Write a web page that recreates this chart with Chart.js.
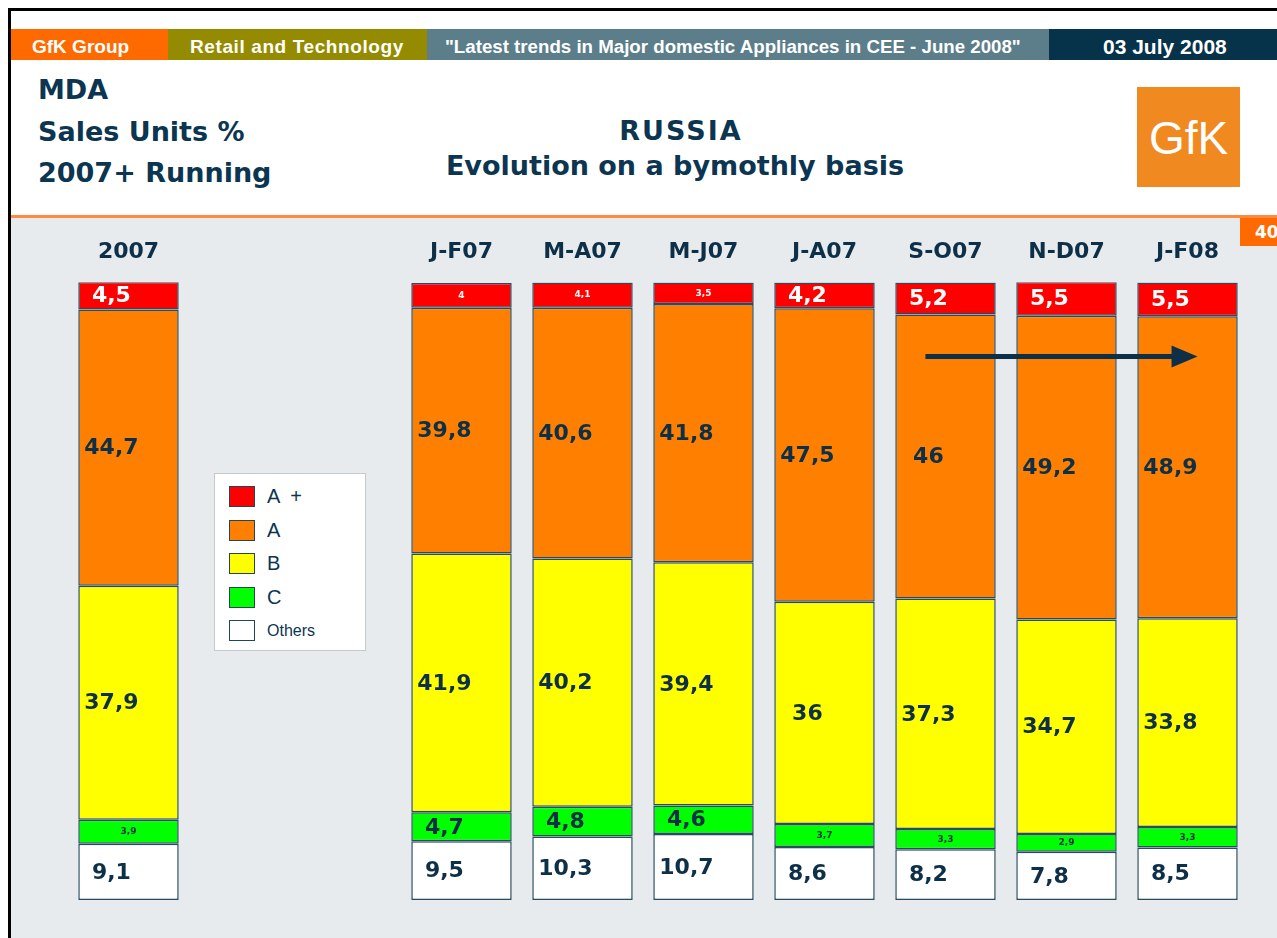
<!DOCTYPE html>
<html>
<head>
<meta charset="utf-8">
<script src="https://cdn.jsdelivr.net/npm/chart.js@4.4.1/dist/chart.umd.min.js"></script>
<style>
  body { margin: 0; width: 1277px; height: 938px; overflow: hidden; background: #fff; position: relative; font-family: "DejaVu Sans", sans-serif; }
  #frame { position: absolute; left: 8px; top: 8px; width: 1400px; height: 1000px; border-left: 3px solid #000; border-top: 3px solid #000; }
  #header { position: absolute; left: 11px; top: 29px; height: 31px; width: 1266px; display: flex; font-family: "Liberation Sans Narrow", "Liberation Sans", sans-serif; font-weight: bold; color: #fff; font-size: 19px; }
  #header div { height: 31px; line-height: 35px; box-sizing: border-box; white-space: nowrap; overflow: hidden; }
  .h1 { background: #ff6a00; width: 157px; padding-left: 21px; }
  .h2 { background: #948b00; width: 259px; padding-left: 22px; letter-spacing: 0.6px; }
  .h3 { background: #5b7e8a; width: 622px; padding-left: 18px; font-size: 18.7px; }
  .h4 { background: #06324a; flex: 1; padding-left: 54px; font-size: 21px; }
  .ttl { position: absolute; color: #0b3550; font-weight: bold; font-size: 27px; white-space: nowrap; }
  #logo { position: absolute; left: 1137px; top: 87px; width: 103px; height: 100px; background: #f0891f; color: #fff; font-family: "Liberation Sans", sans-serif; font-size: 46px; text-align: center; line-height: 102px; }
  #panel { position: absolute; left: 11px; top: 215px; width: 1266px; height: 723px; background: #e7ebed; border-top: 3px solid #ff8a3d; }
  #page { position: absolute; left: 1240px; top: 218px; width: 40px; height: 28px; background: #ff6a00; color: #fff; font-weight: bold; font-size: 17px; line-height: 28px; padding-left: 15px; box-sizing: border-box; overflow: hidden; }
  canvas { position: absolute; }
  #legend { position: absolute; left: 214px; top: 473px; width: 152px; height: 178px; background: #fff; border: 1.5px solid #c4cacd; box-sizing: border-box; padding-top: 6px; }
  .li { height: 33.5px; display: flex; align-items: center; padding-left: 14px; font-family: "Liberation Sans", sans-serif; font-size: 20px; color: #0b3550; white-space: pre; }
  .sw { width: 26px; height: 21px; border: 1.5px solid #20455c; box-sizing: border-box; margin-right: 12px; }
</style>
</head>
<body>
<div id="frame"></div>
<div id="header">
  <div class="h1">GfK Group</div>
  <div class="h2">Retail and Technology</div>
  <div class="h3">"Latest trends in Major domestic Appliances in CEE -  June 2008"</div>
  <div class="h4">03 July 2008</div>
</div>
<div class="ttl" style="left:38px; top:74px;">MDA</div>
<div class="ttl" style="left:38px; top:116px;">Sales Units %</div>
<div class="ttl" style="left:38px; top:157px;">2007+ Running</div>
<div class="ttl" style="left:0; width:1362px; text-align:center; top:115px; letter-spacing:2px;">RUSSIA</div>
<div class="ttl" style="left:0; width:1350px; text-align:center; top:150px;">Evolution on a bymothly basis</div>
<div id="logo">GfK</div>
<div id="panel"></div>
<div id="page">40</div>
<canvas id="cYear" style="left:68px; top:222px;" width="121" height="688"></canvas>
<canvas id="cBi" style="left:401px; top:222px;" width="847" height="688"></canvas>
<div id="legend"></div>
<script>
// categories
const yearLabels = ['2007'];
const biLabels = ['J-F07', 'M-A07', 'M-J07', 'J-A07', 'S-O07', 'N-D07', 'J-F08'];

// series, first value = 2007, then bimonthly periods
const seriesNames = ['A +', 'A', 'B', 'C', 'Others'];
const aPlus  = [4.5, 4, 4.1, 3.5, 4.2, 5.2, 5.5, 5.5];
const aClass = [44.7, 39.8, 40.6, 41.8, 47.5, 46, 49.2, 48.9];
const bClass = [37.9, 41.9, 40.2, 39.4, 36, 37.3, 34.7, 33.8];
const cClass = [3.9, 4.7, 4.8, 4.6, 3.7, 3.3, 2.9, 3.3];
const others = [9.1, 9.5, 10.3, 10.7, 8.6, 8.2, 7.8, 8.5];

// arrow annotation (trend from S-O07 to J-F08)
const arrowFrom = 'S-O07';
const arrowTo = 'J-F08';
const arrowLevel = 88;

const seriesColors = ['#ff0000', '#ff8000', '#ffff00', '#00ff00', '#ffffff'];
const navy = '#0d3048';
const edge = '#2a4c62';

function makeDatasets(sliceStart, sliceEnd) {
    // stack order: Others at the bottom, A+ on top
    const all = [aPlus, aClass, bClass, cClass, others];
    const out = [];
    for (let i = all.length - 1; i >= 0; i--) {
        out.push({
            label: seriesNames[i],
            data: all[i].slice(sliceStart, sliceEnd),
            backgroundColor: seriesColors[i],
            borderColor: edge,
            borderWidth: 1.5,
            borderSkipped: false,
            stack: 's',
            barPercentage: 0.83,
            categoryPercentage: 1
        });
    }
    return out;
}

const segLabels = {
    id: 'segLabels',
    afterDatasetsDraw(chart) {
        const {ctx} = chart;
        ctx.save();
        ctx.textBaseline = 'middle';
        ctx.textAlign = 'center';
        chart.data.datasets.forEach((ds, di) => {
            const meta = chart.getDatasetMeta(di);
            meta.data.forEach((bar, i) => {
                const v = ds.data[i];
                const small = v < 4.2;
                const txt = String(v).replace('.', ',');
                const midY = (bar.y + bar.base) / 2;
                ctx.fillStyle = ds.label === 'A +' ? '#ffffff' : navy;
                if (small) {
                    ctx.font = 'bold 9px "DejaVu Sans"';
                    ctx.fillText(txt, bar.x, midY);
                } else {
                    ctx.font = 'bold 22px "DejaVu Sans"';
                    ctx.fillText(txt, bar.x - bar.width * 0.17, midY + 1);
                }
            });
        });
        ctx.restore();
    }
};

const trendArrow = {
    id: 'trendArrow',
    afterDatasetsDraw(chart) {
        if (chart.canvas.id !== 'cBi') return;
        const {ctx} = chart;
        const xs = chart.scales.x;
        const meta = chart.getDatasetMeta(0);
        const w = meta.data[0].width;
        const x0 = xs.getPixelForValue(biLabels.indexOf(arrowFrom)) - w * 0.2;
        const x1 = xs.getPixelForValue(biLabels.indexOf(arrowTo)) + w * 0.1;
        const y = chart.scales.y.getPixelForValue(arrowLevel);
        ctx.save();
        ctx.fillStyle = navy;
        ctx.fillRect(x0, y - 2.5, x1 - x0 - 24, 5);
        ctx.beginPath();
        ctx.moveTo(x1, y);
        ctx.lineTo(x1 - 26, y - 11);
        ctx.lineTo(x1 - 26, y + 11);
        ctx.closePath();
        ctx.fill();
        ctx.restore();
    }
};

function makeChart(id, labels, datasets) {
    return new Chart(document.getElementById(id), {
        type: 'bar',
        data: { labels: labels, datasets: datasets },
        options: {
            responsive: false,
            animation: false,
            layout: { padding: { top: 0, bottom: 10, left: 0, right: 0 } },
            plugins: { legend: { display: false }, tooltip: { enabled: false } },
            scales: {
                x: {
                    position: 'top',
                    stacked: true,
                    grid: { display: false, drawTicks: false },
                    border: { display: false },
                    ticks: { color: navy, font: { family: 'DejaVu Sans', size: 22, weight: 'bold' }, padding: 17, maxRotation: 0 }
                },
                y: { stacked: true, display: false, min: 0, max: 100 }
            }
        },
        plugins: [segLabels, trendArrow]
    });
}

makeChart('cYear', yearLabels, makeDatasets(0, 1));
makeChart('cBi', biLabels, makeDatasets(1, 8));

// legend box, top to bottom A+ ... Others
const legend = document.getElementById('legend');
seriesNames.forEach((name, i) => {
    const row = document.createElement('div');
    row.className = 'li';
    if (name === 'Others') row.style.fontSize = '16px';
    const sw = document.createElement('span');
    sw.className = 'sw';
    sw.style.background = seriesColors[i];
    row.appendChild(sw);
    row.appendChild(document.createTextNode(name === 'A +' ? 'A  +' : name));
    legend.appendChild(row);
});
</script>
</body>
</html>
